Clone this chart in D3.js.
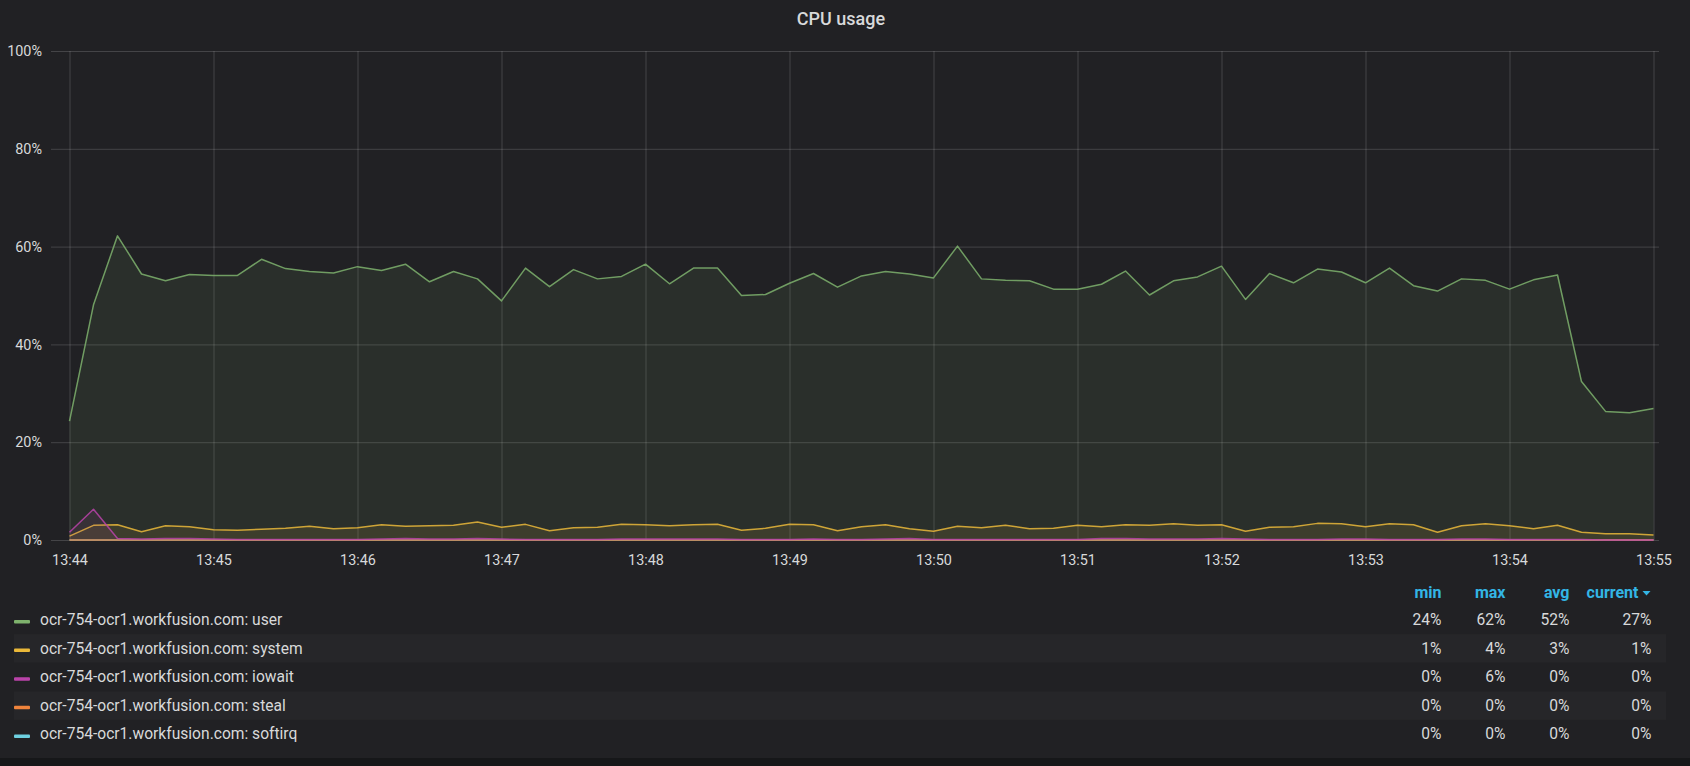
<!DOCTYPE html>
<html>
<head>
<meta charset="utf-8">
<script src="https://cdn.jsdelivr.net/npm/d3@7"></script>
<style>
  body { margin: 0; background: #161719; }
  svg { display: block; font-family: Roboto, "Noto Sans", sans-serif; }
</style>
</head>
<body>
<div id="canvas"></div>
<script>
"use strict"

/* Data: one sample every 10 seconds, 13:44 to 13:55 */
let xTickLabels = ["13:44", "13:45", "13:46", "13:47", "13:48", "13:49",
                   "13:50", "13:51", "13:52", "13:53", "13:54", "13:55"];
let yTicks = [0, 20, 40, 60, 80, 100];
let sampleStep = 10; // seconds

let seriesNames = ["ocr-754-ocr1.workfusion.com: user",
                   "ocr-754-ocr1.workfusion.com: system",
                   "ocr-754-ocr1.workfusion.com: iowait",
                   "ocr-754-ocr1.workfusion.com: steal",
                   "ocr-754-ocr1.workfusion.com: softirq"];
let seriesColors = ["#7eb26d", "#eab839", "#ba43a9", "#ef843c", "#6ed0e0"];

let user = [24.3, 48.1, 62.2, 54.4, 53.0, 54.3, 54.1, 54.1, 57.4, 55.5,
            54.9, 54.6, 55.9, 55.1, 56.4, 52.8, 54.9, 53.4, 48.9, 55.6,
            51.8, 55.3, 53.4, 53.9, 56.4, 52.4, 55.6, 55.6, 50.0, 50.2,
            52.5, 54.5, 51.7, 54.0, 54.9, 54.4, 53.6, 60.1, 53.4, 53.1,
            53.0, 51.3, 51.3, 52.3, 55.0, 50.1, 53.0, 53.8, 56.0, 49.2,
            54.5, 52.6, 55.4, 54.8, 52.6, 55.6, 52.0, 50.9, 53.4, 53.1,
            51.3, 53.2, 54.2, 32.4, 26.3, 26.0, 26.9];
let system = [0.8, 3.0, 3.1, 1.7, 2.9, 2.7, 2.1, 2.0, 2.2, 2.4,
              2.8, 2.3, 2.5, 3.1, 2.8, 2.9, 3.0, 3.7, 2.6, 3.2,
              1.9, 2.5, 2.6, 3.2, 3.1, 2.9, 3.1, 3.2, 2.0, 2.4,
              3.2, 3.1, 1.9, 2.7, 3.1, 2.3, 1.8, 2.8, 2.5, 3.0,
              2.3, 2.4, 3.0, 2.7, 3.1, 3.0, 3.3, 3.0, 3.1, 1.8,
              2.6, 2.7, 3.4, 3.3, 2.7, 3.3, 3.1, 1.6, 2.9, 3.3,
              2.9, 2.3, 3.0, 1.6, 1.3, 1.3, 1.0];
let iowait = [1.6, 6.3, 0.3, 0.2, 0.3, 0.3, 0.2, 0.1, 0.1, 0.1,
              0.1, 0.1, 0.1, 0.2, 0.3, 0.2, 0.2, 0.3, 0.2, 0.1,
              0.1, 0.1, 0.1, 0.2, 0.2, 0.2, 0.2, 0.2, 0.1, 0.1,
              0.1, 0.2, 0.1, 0.1, 0.2, 0.3, 0.1, 0.1, 0.1, 0.1,
              0.1, 0.1, 0.1, 0.3, 0.3, 0.2, 0.2, 0.2, 0.3, 0.2,
              0.1, 0.1, 0.1, 0.2, 0.2, 0.1, 0.1, 0.1, 0.2, 0.2,
              0.1, 0.1, 0.1, 0.1, 0.0, 0.0, 0.0];
let steal = [0, 0, 0, 0, 0, 0, 0, 0, 0, 0,
             0, 0, 0, 0, 0, 0, 0, 0, 0, 0,
             0, 0, 0, 0, 0, 0, 0, 0, 0, 0,
             0, 0, 0, 0, 0, 0, 0, 0, 0, 0,
             0, 0, 0, 0, 0, 0, 0, 0, 0, 0,
             0, 0, 0, 0, 0, 0, 0, 0, 0, 0,
             0, 0, 0, 0, 0, 0, 0];
let softirq = [0, 0, 0, 0, 0, 0, 0, 0, 0, 0,
               0, 0, 0, 0, 0, 0, 0, 0, 0, 0,
               0, 0, 0, 0, 0, 0, 0, 0, 0, 0,
               0, 0, 0, 0, 0, 0, 0, 0, 0, 0,
               0, 0, 0, 0, 0, 0, 0, 0, 0, 0,
               0, 0, 0, 0, 0, 0, 0, 0, 0, 0,
               0, 0, 0, 0, 0, 0, 0];

let seriesValues = [user, system, iowait, steal, softirq];

/* Canvas */
let drawing = d3.select("#canvas")
    .append("svg")
    .attr("width", 1690)
    .attr("height", 766);

let panel = drawing.append("rect")
    .attr("width", 1690)
    .attr("height", 758)
    .attr("fill", "#212124");

/* Title */
let title = drawing.append("text")
    .attr("x", 841)
    .attr("y", 24.5)
    .attr("text-anchor", "middle")
    .attr("font-size", 18)
    .attr("font-weight", 500)
    .attr("fill", "#d8d9da")
    .text("CPU usage");

/* Scales */
let parseTime = d3.timeParse("%H:%M");
let xTicks = xTickLabels.map(parseTime);
let start = xTicks[0];
let times = user.map((d, i) => d3.timeSecond.offset(start, i * sampleStep));

let x = d3.scaleTime()
    .domain([xTicks[0], xTicks[xTicks.length - 1]])
    .range([69.5, 1653.5]);

let y = d3.scaleLinear()
    .domain([0, 100])
    .range([540, 51]);

/* Grid + axes */
let yAxis = drawing.append("g")
    .attr("transform", "translate(51,0)")
    .call(d3.axisLeft(y)
        .tickValues(yTicks)
        .tickSize(-1608)
        .tickPadding(9)
        .tickFormat(d => d + "%"));

let xAxis = drawing.append("g")
    .attr("transform", "translate(0,540)")
    .call(d3.axisBottom(x)
        .tickValues(xTicks)
        .tickSize(-489)
        .tickPadding(15)
        .tickFormat(d3.timeFormat("%H:%M")));

drawing.selectAll(".domain").remove();
drawing.selectAll(".tick line")
    .attr("stroke", "#ffffff")
    .attr("stroke-opacity", 0.16)
    .attr("stroke-width", 1);
drawing.selectAll(".tick text")
    .attr("fill", "#d8d9da")
    .attr("font-size", 14.4)
    .attr("font-family", "Roboto, sans-serif");

/* Series: draw zero series first so the busy ones sit on top */
let area = d3.area()
    .x((d, i) => x(times[i]))
    .y0(y(0))
    .y1(d => y(d));

let line = d3.line()
    .x((d, i) => x(times[i]))
    .y(d => y(d));

let drawOrder = [4, 3, 0, 1, 2];
let plot = drawing.append("g");

drawOrder.forEach(k => {
    plot.append("path")
        .datum(seriesValues[k])
        .attr("d", area)
        .attr("fill", seriesColors[k])
        .attr("fill-opacity", 0.1);
    plot.append("path")
        .datum(seriesValues[k])
        .attr("d", line)
        .attr("fill", "none")
        .attr("stroke", seriesColors[k])
        .attr("stroke-opacity", 0.85)
        .attr("stroke-width", 1.5)
        .attr("stroke-linejoin", "round");
});

/* Legend table */
let rowTop = 605.5;
let rowH = 28.6;
let colRight = [1441.5, 1505.5, 1569.5, 1651.5];
let headers = ["min", "max", "avg", "current"];

let legend = drawing.append("g");

headers.forEach((h, j) => {
    legend.append("text")
        .attr("x", j === 3 ? 1638.5 : colRight[j])
        .attr("y", 597.5)
        .attr("text-anchor", "end")
        .attr("font-size", 16)
        .attr("font-weight", 700)
        .attr("fill", "#33b5e5")
        .text(h);
});

/* sort caret beside "current" */
let caret = legend.append("path")
    .attr("d", "M1642.5,591 L1650.5,591 L1646.5,595.5 Z")
    .attr("fill", "#33b5e5");

let fmt = v => Math.round(v) + "%";

seriesNames.forEach((name, k) => {
    let top = rowTop + k * rowH;
    let vals = seriesValues[k];
    let stats = [d3.min(vals), d3.max(vals), d3.mean(vals), vals[vals.length - 1]];

    if (k % 2 === 1) {
        legend.append("rect")
            .attr("x", 14)
            .attr("y", top)
            .attr("width", 1652)
            .attr("height", rowH)
            .attr("fill", "#262629");
    }

    legend.append("rect")
        .attr("x", 14)
        .attr("y", top + 14.5)
        .attr("width", 16)
        .attr("height", 3.5)
        .attr("rx", 1)
        .attr("fill", seriesColors[k]);

    legend.append("text")
        .attr("x", 40)
        .attr("y", top + 19.5)
        .attr("font-size", 15.6)
        .attr("fill", "#d8d9da")
        .text(name);

    stats.forEach((s, j) => {
        legend.append("text")
            .attr("x", colRight[j])
            .attr("y", top + 19.5)
            .attr("text-anchor", "end")
            .attr("font-size", 15.6)
            .attr("fill", "#d8d9da")
            .text(fmt(s));
    });
});
</script>
</body>
</html>
